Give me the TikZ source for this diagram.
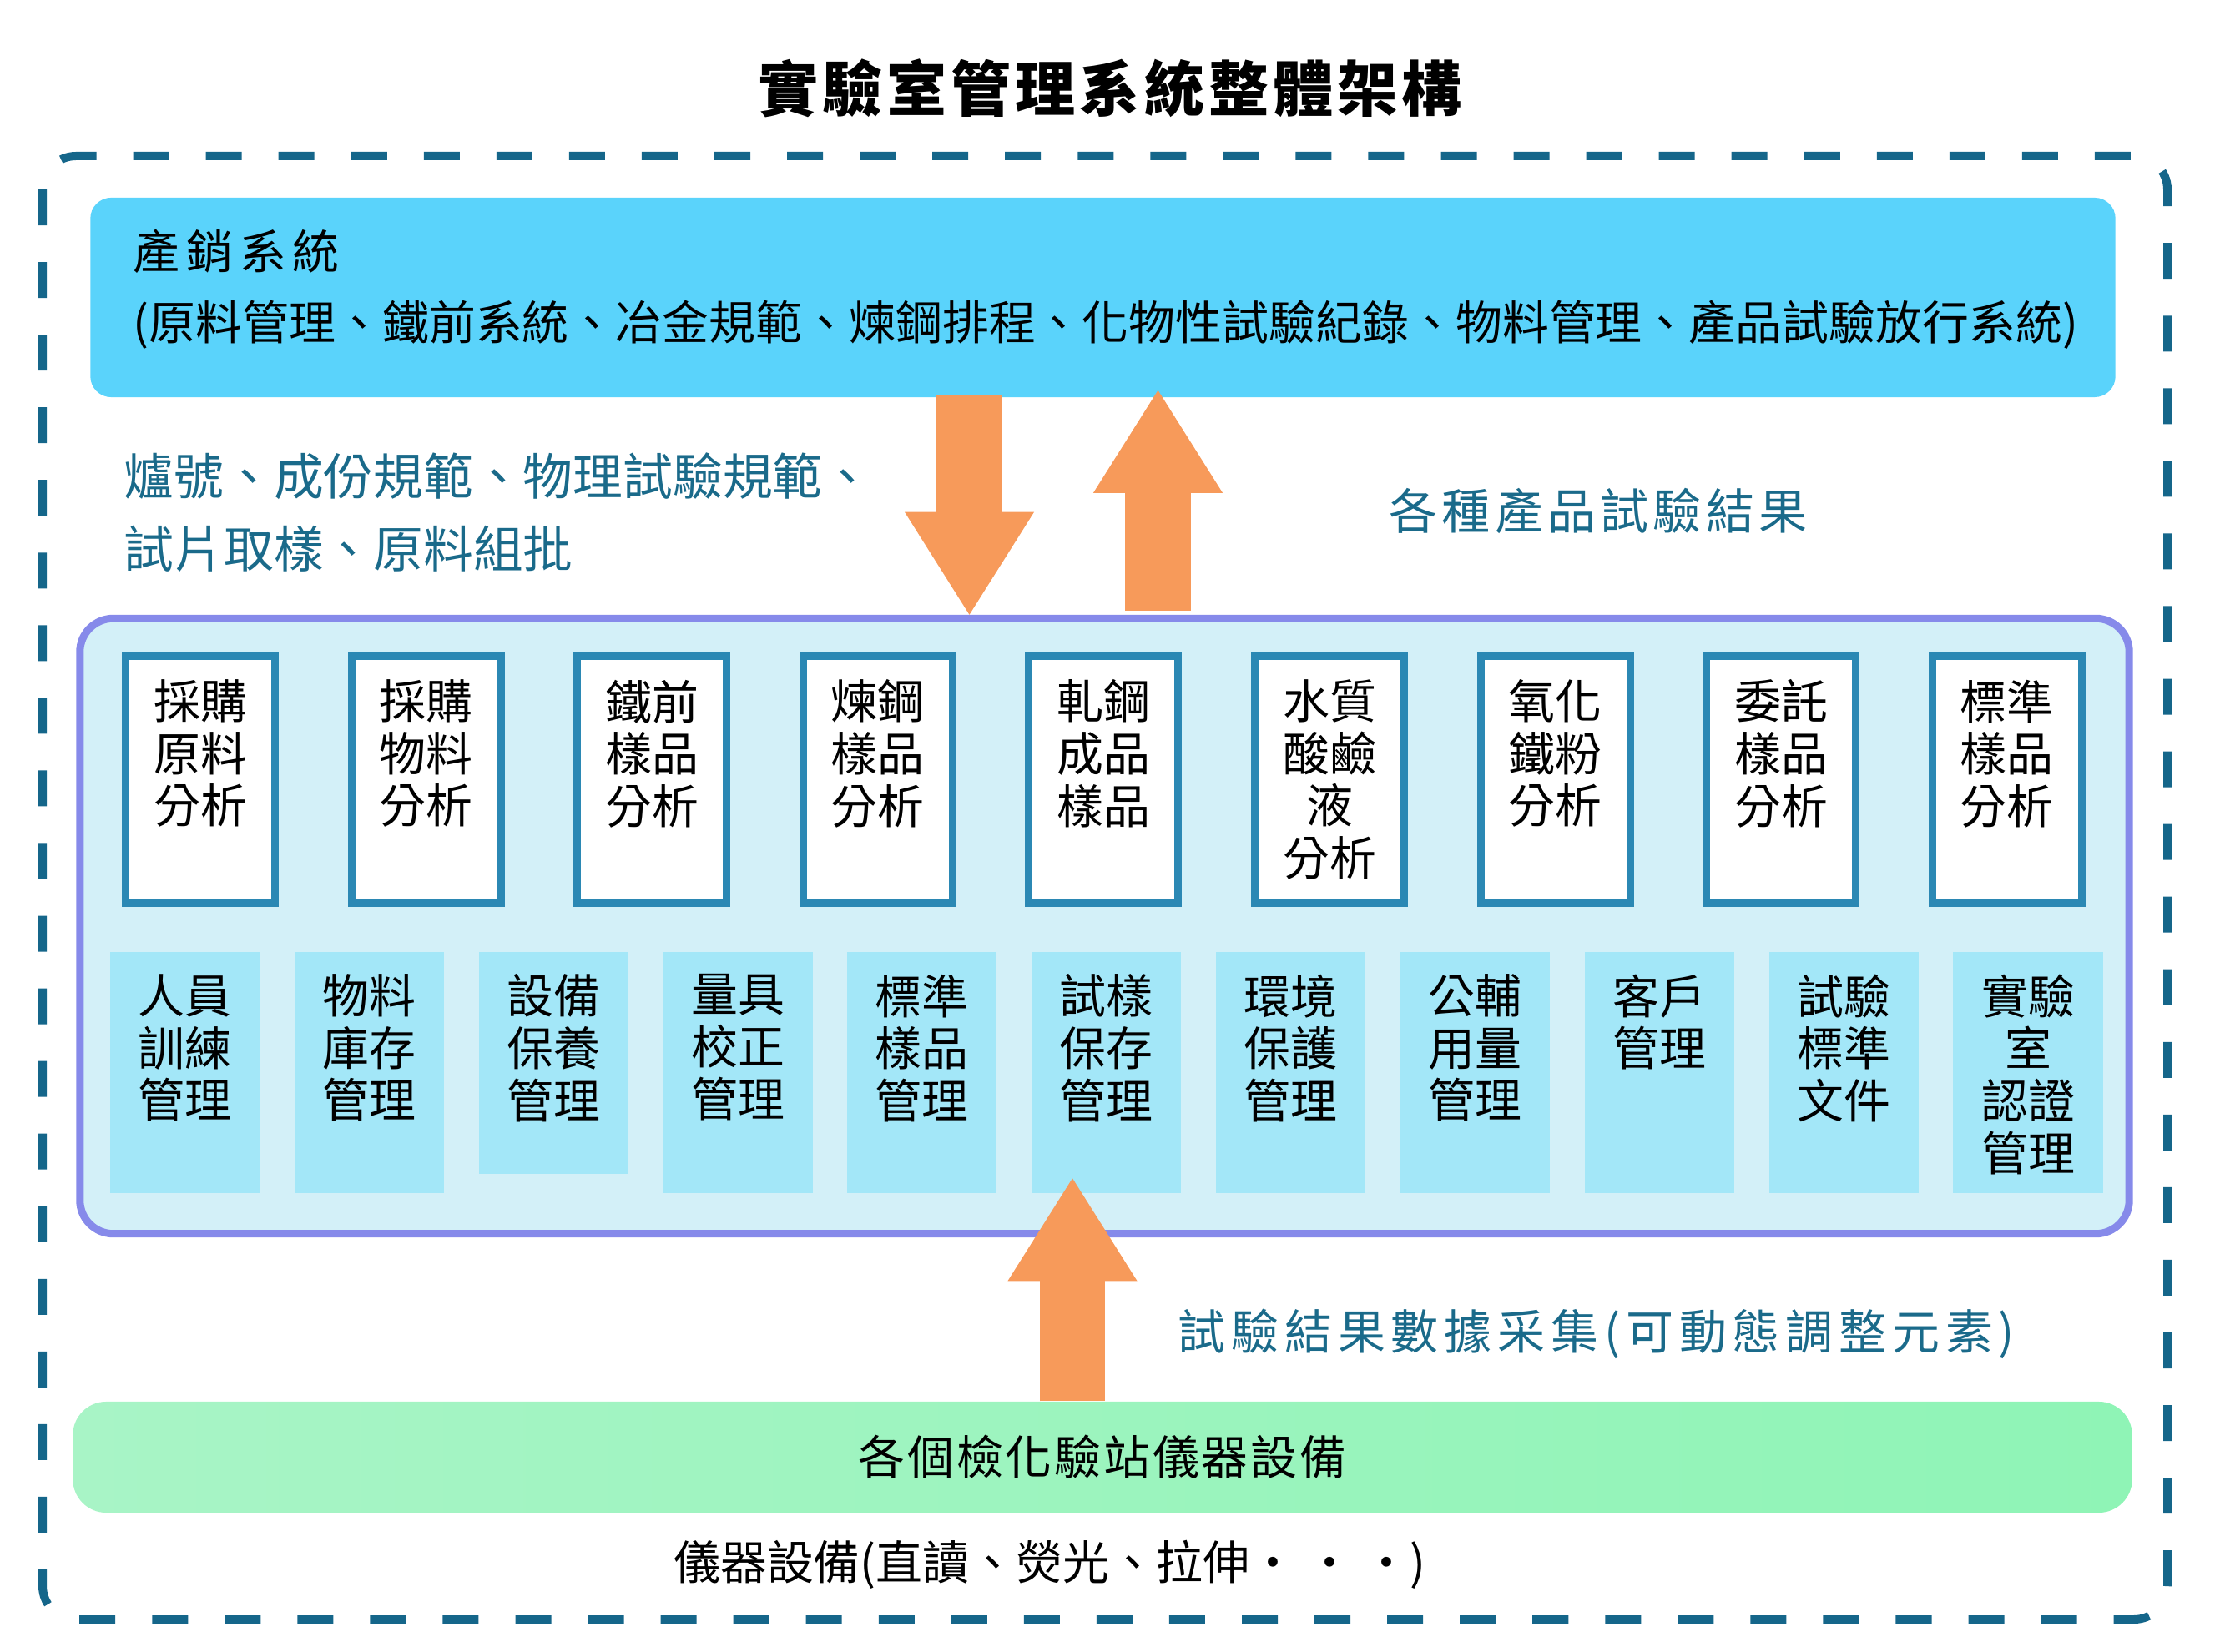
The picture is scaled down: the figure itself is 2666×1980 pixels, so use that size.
\documentclass[tikz,border=0pt]{standalone}
\usepackage{fontspec}
\newfontfamily\cjk{Noto Sans CJK TC}
\usetikzlibrary{arrows.meta,calc}
\definecolor{frameteal}{RGB}{21,102,138}
\definecolor{labeltxt}{RGB}{26,106,138}
\definecolor{prodcyan}{RGB}{90,211,251}
\definecolor{labborder}{RGB}{134,138,234}
\definecolor{labfill}{RGB}{211,240,248}
\definecolor{anaborder}{RGB}{43,136,180}
\definecolor{mgtfill}{RGB}{163,231,248}
\definecolor{arroworange}{RGB}{247,154,90}
\definecolor{greenl}{RGB}{168,244,198}
\definecolor{greenr}{RGB}{143,244,182}
\begin{document}
\begin{tikzpicture}[x=0.01cm,y=-0.01cm,
    boxfont/.style={font=\cjk\fontsize{15.9}{17.8}\selectfont},
    anabox/.style={draw=anaborder,line width=0.09cm,fill=white,minimum width=1.79cm,minimum height=2.96cm,inner sep=0,anchor=north},
    mgtbox/.style={fill=mgtfill,minimum width=1.79cm,inner sep=0,anchor=north},
    boxtxt/.style={boxfont,align=center,anchor=north,inner sep=0},
    tealtxt/.style={text=labeltxt,inner sep=0},
    bigarrow/.style={draw=arroworange,line width=0.78cm,-{Triangle[width=1.55cm,length=1.23cm,line width=0pt,color=arroworange]}}]
    \useasboundingbox (0,0) rectangle (2666,1980);
    \node[font=\cjk\bfseries\fontsize{20.5}{24}\selectfont\addfontfeature{LetterSpace=7},inner sep=0] (title) at (1330,106) {實驗室管理系統整體架構};
    \draw[frameteal,line width=0.1cm,dash pattern=on 0.43cm off 0.44cm,rounded corners=0.4cm] (51,187) rectangle (2597,1941);
    \node[fill=prodcyan,rounded corners=0.25cm,minimum width=24.25cm,minimum height=2.39cm,inner sep=0] (prod) at (1321.5,356.5) {};
    \node[anchor=north west,align=left,inner sep=0,font=\cjk\fontsize{15.9}{24.2}\selectfont] (prodtxt) at (159,274) {{\addfontfeature{LetterSpace=14}產銷系統}\\(原料管理、鐵前系統、冶金規範、煉鋼排程、化物性試驗紀錄、物料管理、產品試驗放行系統)};
    \node[draw=labborder,fill=labfill,line width=0.09cm,rounded corners=0.4cm,minimum width=24.54cm,minimum height=7.37cm,inner sep=0] (lab) at (1323.5,1110) {};
    \foreach \txt [count=\i] in {{採購\\原料\\分析},{採購\\物料\\分析},{鐵前\\樣品\\分析},{煉鋼\\樣品\\分析},{軋鋼\\成品\\樣品},{水質\\酸鹼\\液\\分析},{氧化\\鐵粉\\分析},{委託\\樣品\\分析},{標準\\樣品\\分析}}{
        \node[anabox] (a\i) at ({240+270.6*(\i-1)},782) {};
        \node[boxtxt] (at\i) at ($(a\i.north)+(0,32)$) {\txt};
    }
    \foreach \txt/\h [count=\i] in {{人員\\訓練\\管理}/2.89,{物料\\庫存\\管理}/2.89,{設備\\保養\\管理}/2.66,{量具\\校正\\管理}/2.89,{標準\\樣品\\管理}/2.89,{試樣\\保存\\管理}/2.89,{環境\\保護\\管理}/2.89,{公輔\\用量\\管理}/2.89,{客戶\\管理}/2.89,{試驗\\標準\\文件}/2.89,{實驗\\室\\認證\\管理}/2.89}{
        \node[mgtbox,minimum height=\h cm] (b\i) at ({221.5+220.85*(\i-1)},1140) {};
        \node[boxtxt] (bt\i) at ($(b\i.north)+(0,27)$) {\txt};
    }
    \node[left color=greenl,right color=greenr,rounded corners=0.4cm,minimum width=24.66cm,minimum height=1.33cm,inner sep=0,font=\cjk\fontsize{15.9}{18}\selectfont\addfontfeature{LetterSpace=5}] (green) at (1321,1746.5) {各個檢化驗站儀器設備};
    \draw[bigarrow] ($(prod.south)+(-160,-4)$) -- ++(0,264);
    \draw[bigarrow] ($(lab.north)+(64,-5)$) -- ++(0,-264);
    \draw[bigarrow] ($(green.north)+(-36,0)$) -- ++(0,-267);
    \node[tealtxt,anchor=north west,align=left,font=\cjk\fontsize{17}{24.75}\selectfont] (specs) at (148,542) {爐號、成份規範、物理試驗規範、\\試片取樣、原料組批};
    \node[tealtxt,font=\cjk\fontsize{16.5}{20}\selectfont\addfontfeature{LetterSpace=9}] (results) at (1915,612) {各種產品試驗結果};
    \node[tealtxt,font=\cjk\fontsize{16.2}{20}\selectfont\addfontfeature{LetterSpace=12}] (collect) at (1913,1599) {試驗結果數據采集(可動態調整元素)};
    \node[inner sep=0,font=\cjk\fontsize{15.9}{18}\selectfont] (instr) at (1258,1875) {儀器設備(直讀、熒光、拉伸・ ・ ・)};
\end{tikzpicture}
\end{document}
